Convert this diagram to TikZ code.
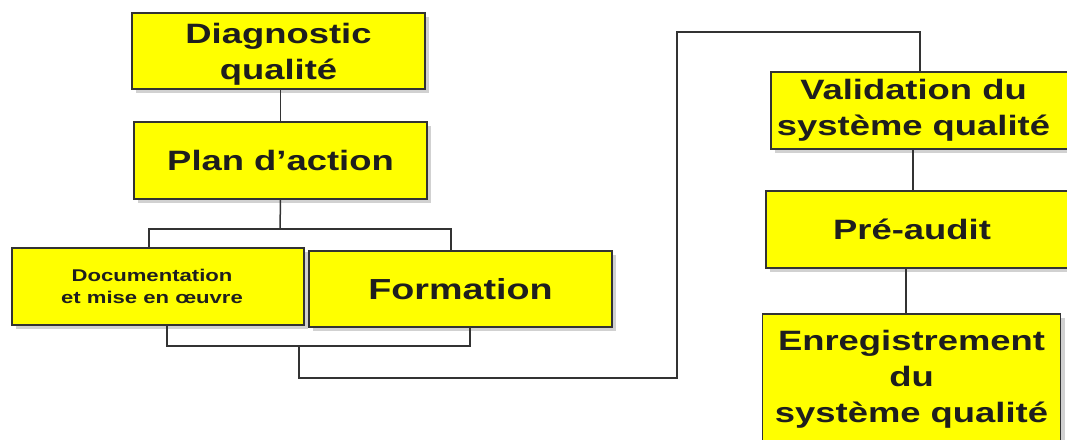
\documentclass[tikz,border=0pt]{standalone}
\usepackage{fontspec}
\setmainfont{Liberation Sans}[FakeStretch=1.3]
\usetikzlibrary{shadows}
\definecolor{boxyellow}{HTML}{FFFF00}
\definecolor{edgegray}{HTML}{333333}
\definecolor{txtgray}{HTML}{1E1E1E}
\tikzset{
  box/.style={draw=edgegray, line width=1.4pt, fill=boxyellow, inner sep=0pt,
    drop shadow={shadow xshift=4pt, shadow yshift=-4pt, fill=black, opacity=0.18}},
  txt/.style={align=center, text=txtgray, font=\bfseries\fontsize{28}{36}\selectfont},
  small/.style={align=center, text=txtgray, font=\bfseries\fontsize{17}{22}\selectfont},
  link/.style={draw=edgegray, line width=1.5pt}
}
\begin{document}
\begin{tikzpicture}[x=1pt,y=-1pt]
\useasboundingbox (0,0) rectangle (1067,439);
\clip (0,0) rectangle (1067,439);
\fill[white] (0,0) rectangle (1067,439);

% boxes
\node[box, minimum width=293pt, minimum height=76pt,
  label={[txt, yshift=-3pt]center:Diagnostic\\qualité}] (diag) at (278.5,51) {};
\node[box, txt, minimum width=293pt, minimum height=77pt] (plan) at (280.5,160.5) {Plan d’action};
\node[box, small, minimum width=292pt, minimum height=77pt] (doc) at (158,286.5) {\hspace*{-12pt}Documentation\\\hspace*{-12pt}et mise en œuvre};
\node[box, txt, font=\bfseries\fontsize{29}{36}\selectfont, minimum width=303pt, minimum height=76pt] (form) at (460.5,289) {Formation};
\node[box, minimum width=309pt, minimum height=77pt,
  label={[txt, xshift=-12pt]center:Validation du\\système qualité}] (val) at (925.5,110.5) {};
\node[box, minimum width=314pt, minimum height=77pt,
  label={[txt, xshift=-11pt]center:Pré-audit}] (pre) at (923,229.5) {};
\node[box, txt, minimum width=298pt, minimum height=130pt] (enr) at (911.5,379) {Enregistrement\\du\\système qualité};

% coordinates for connector routing
\coordinate (pj) at (280,229);
\coordinate (bj) at (299,346);

% connectors
\draw[link] (plan.north) -- (plan.north |- diag.south);
\draw[link] (plan.south) -- (pj);
\draw[link] (doc.north -| 149,0) -- (149,229) -- (451,229) -- (form.north -| 451,0);
\draw[link] (doc.south -| 167,0) -- (167,346) -- (470,346) -- (form.south -| 470,0);
\draw[link] (bj) -- (299,378) -- (677,378) -- (677,32) -- (920,32) -- (val.north -| 920,0);
\draw[link] (val.south -| 913,0) -- (pre.north -| 913,0);
\draw[link] (pre.south -| 906,0) -- (enr.north -| 906,0);
\end{tikzpicture}
\end{document}
